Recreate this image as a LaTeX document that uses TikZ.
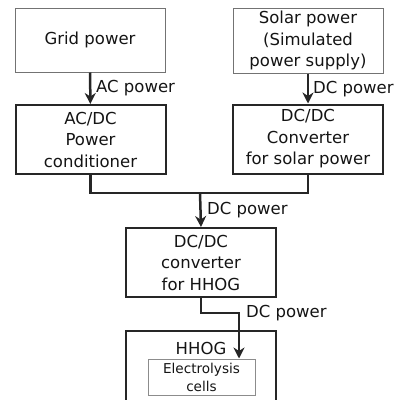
\documentclass[tikz,border=0pt]{standalone}
\usepackage{fontspec}
\setmainfont{DejaVu Sans}
\usetikzlibrary{arrows.meta}
\begin{document}
\begin{tikzpicture}[x=1pt,y=-1pt,
  txt/.style={font=\fontsize{16.5}{21.5}\selectfont, text=black!92},
  graybox/.style={draw=black!55, line width=1pt, inner sep=0pt, align=center, txt},
  blackbox/.style={draw=black!85, line width=2pt, inner sep=0pt, align=center, txt},
  lbl/.style={txt, anchor=west, inner sep=0pt},
  wire/.style={draw=black!85, line width=2.5pt},
  arr/.style={wire, -{Stealth[length=11pt,width=11pt,inset=3.5pt]}}]
\useasboundingbox (0,0) rectangle (404,399);
\begin{scope}
\clip (0,0) rectangle (404,399);
% top boxes
\node[graybox, minimum width=150pt, minimum height=64pt] (grid) at (90,40) {Grid power};
\node[graybox, minimum width=150pt, minimum height=65pt] (solar) at (308,40.5) {Solar power\\(Simulated\\power supply)};
% converters
\node[blackbox, minimum width=150pt, minimum height=69pt] (acdc) at (90.5,139.5) {AC/DC\\Power\\conditioner};
\node[blackbox, minimum width=150pt, minimum height=69pt] (dcdc) at (308,139) {DC/DC\\Converter\\for solar power};
\node[blackbox, minimum width=150pt, minimum height=69pt] (hconv) at (201,262.5) {DC/DC\\converter\\for HHOG};
% HHOG (open at bottom, cut by frame)
\coordinate (hbl) at (126,402);
\coordinate (htl) at (126,331);
\coordinate (htr) at (276,331);
\coordinate (hbr) at (276,402);
\draw[draw=black!85, line width=2pt] (hbl) -- (htl) -- (htr) -- (hbr) -- cycle;
\node[txt, inner sep=0pt] (hhog) at (201,348) {HHOG};
\node[draw=black!45, line width=1pt, inner sep=0pt, minimum width=107pt, minimum height=36pt, align=center,
      font=\fontsize{13.6}{18}\selectfont, text=black!92] (cells) at (201.5,377) {Electrolysis\\cells};
% connectors
\draw[arr] (grid) -- (acdc);
\node[lbl] (l1) at (96,88) {AC power};
\draw[arr] (solar) -- (dcdc);
\node[lbl] (l2) at (313,89.5) {DC power};
\coordinate (m) at (200,193);
\draw[wire] (acdc.south) |- (m) -| (dcdc.south);
\draw[arr] (m) -- (hconv.north);
\node[lbl] (l3) at (207,210) {DC power};
\coordinate (j) at (239,313);
\draw[arr] (hconv.south) |- (j) -- (j |- cells.north);
\node[lbl] (l4) at (246,313) {DC power};
\end{scope}
\end{tikzpicture}
\end{document}
